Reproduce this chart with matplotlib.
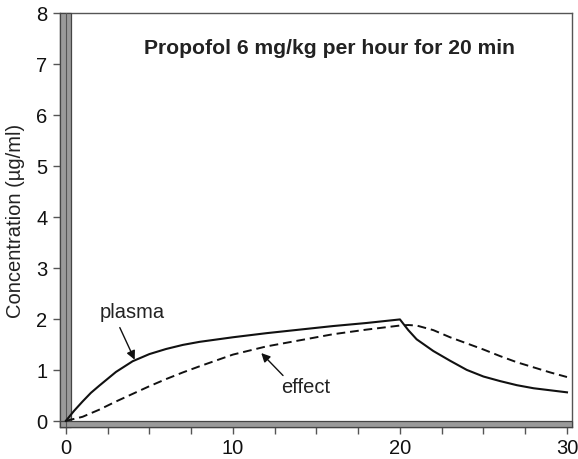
import matplotlib
matplotlib.use("Agg")
import matplotlib.pyplot as plt
from matplotlib.patches import Rectangle

plt.rcParams['font.family'] = ['Liberation Sans', 'DejaVu Sans']

plasma_t = [0, 0.25, 0.5, 1, 1.5, 2, 3, 4, 5, 6, 7, 8, 10, 12, 14, 16, 18, 20,
            20.5, 21, 22, 23, 24, 25, 26, 27, 28, 29, 30]
plasma_c = [0, 0.10, 0.20, 0.38, 0.55, 0.69, 0.96, 1.17, 1.31, 1.41, 1.49, 1.55,
            1.64, 1.72, 1.79, 1.86, 1.92, 1.99, 1.78, 1.60, 1.37, 1.18, 1.00,
            0.87, 0.78, 0.70, 0.64, 0.60, 0.56]

effect_t = [0, 1, 2, 3, 4, 5, 6, 7, 8, 10, 12, 14, 16, 18, 20, 20.5, 21, 22, 23,
            24, 25, 26, 27, 28, 29, 30]
effect_c = [0, 0.08, 0.22, 0.38, 0.53, 0.68, 0.82, 0.95, 1.07, 1.30, 1.46, 1.58,
            1.70, 1.79, 1.87, 1.88, 1.87, 1.78, 1.64, 1.52, 1.40, 1.27, 1.15,
            1.05, 0.95, 0.86]

x_major = [0, 10, 20, 30]
y_ticks = [0, 1, 2, 3, 4, 5, 6, 7, 8]
title = "Propofol 6 mg/kg per hour for 20 min"

FS = 14.5

fig = plt.figure(figsize=(5.78, 4.6), dpi=100)
ax = fig.add_axes([60/578, 1-428/460, 512/578, 414/460])
ax.set_xlim(-0.35, 30.3)
ax.set_ylim(-0.12, 8)

# gray walls
ax.add_patch(Rectangle((-0.35, -0.12), 0.64, 8.12, facecolor='#9a9a9a',
                       edgecolor='#444444', lw=0.9, zorder=3, clip_on=False))
ax.plot([0, 0], [-0.12, 8], color='#555555', lw=0.8, zorder=3.5)
ax.add_patch(Rectangle((-0.35, -0.12), 30.65, 0.12, facecolor='#9a9a9a',
                       edgecolor='#444444', lw=0.9, zorder=3, clip_on=False))

ax.plot(plasma_t, plasma_c, color='#111111', lw=1.5, zorder=4)
ax.plot(effect_t, effect_c, color='#111111', lw=1.4, dashes=(4.5, 2.5), zorder=4)

for s in ax.spines.values():
    s.set_color('#555555')
    s.set_linewidth(1.0)

ax.set_xticks(x_major)
ax.set_xticks([2.5 * i for i in range(13)], minor=True)
ax.set_yticks(y_ticks)
ax.tick_params(axis='both', which='both', direction='out', length=5,
               width=1.0, color='#555555', labelsize=FS, labelcolor='#111111')
ax.tick_params(axis='x', which='major', pad=3)
ax.tick_params(axis='y', which='major', pad=4)

ax.set_ylabel("Concentration (µg/ml)", fontsize=FS, color='#222222', labelpad=8)

ax.text(15.8, 7.32, title, ha='center', va='center', fontsize=15.2,
        fontweight='bold', color='#222222')

ax.text(3.97, 2.15, "plasma", ha='center', va='center', fontsize=FS,
        color='#222222')
ax.annotate("", xy=(4.12, 1.20), xytext=(3.23, 1.83),
            arrowprops=dict(arrowstyle='-|>', color='#111111', lw=1.0,
                            mutation_scale=13, shrinkA=0, shrinkB=0))
ax.text(14.35, 0.68, "effect", ha='center', va='center', fontsize=FS,
        color='#222222')
ax.annotate("", xy=(11.7, 1.33), xytext=(13.0, 0.89),
            arrowprops=dict(arrowstyle='-|>', color='#111111', lw=1.0,
                            mutation_scale=13, shrinkA=0, shrinkB=0))

fig.savefig("out.png", dpi=100)
